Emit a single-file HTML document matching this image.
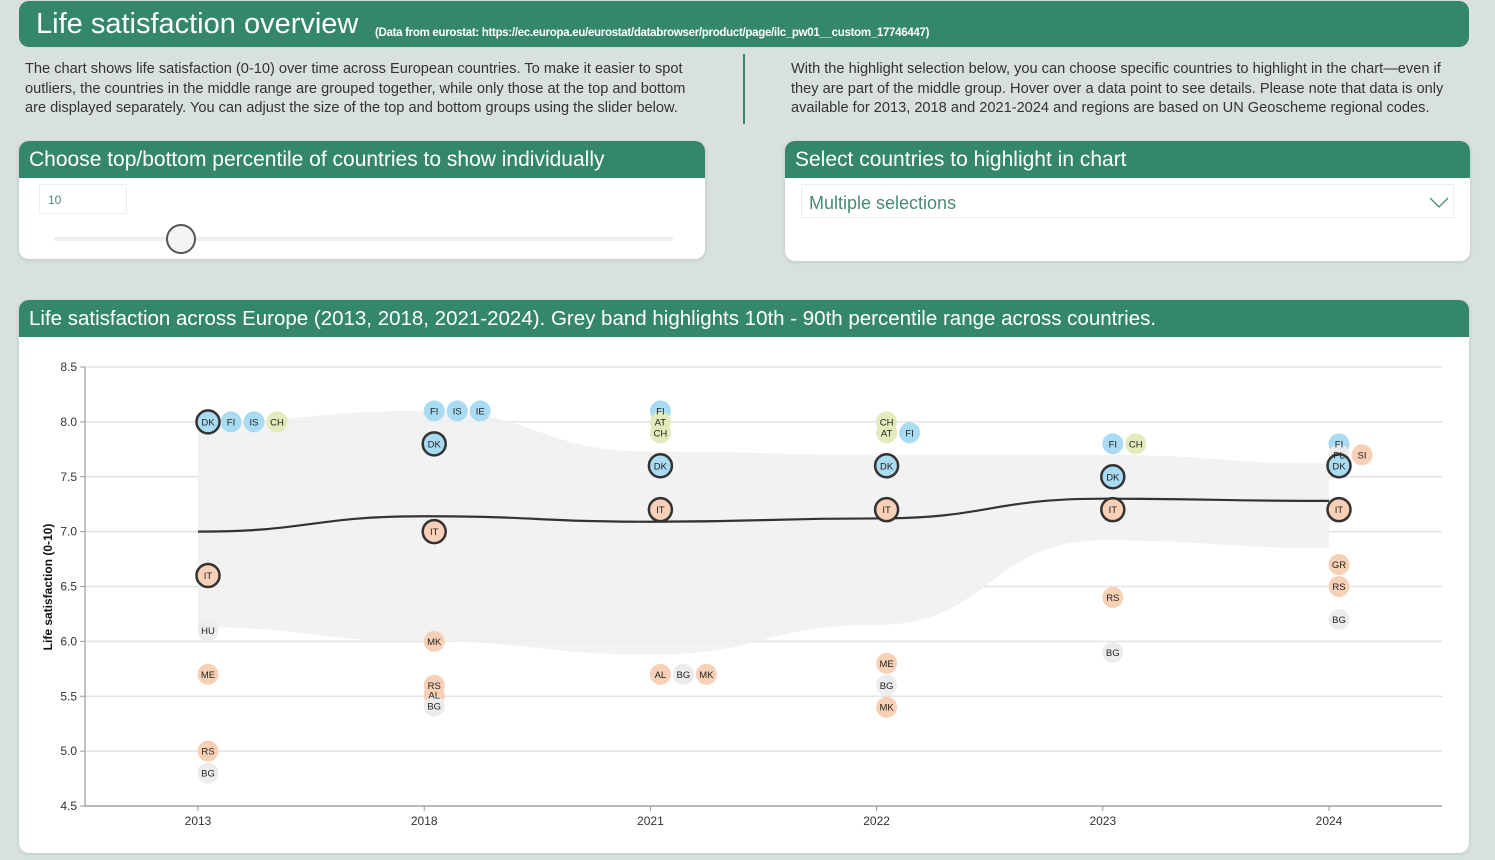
<!DOCTYPE html>
<html><head><meta charset="utf-8"><style>
body{margin:0;width:1495px;height:860px;background:#d8e1de;font-family:"Liberation Sans",sans-serif;position:relative;overflow:hidden}
.abs{position:absolute}
.hdr{background:#35876a;color:#fff}
.card{background:#fff;border-radius:10px;box-shadow:0 1px 4px rgba(0,0,0,.12);overflow:hidden}
.para{font-size:14.6px;line-height:19.5px;color:#333;white-space:nowrap}
.ph{height:37px;line-height:37px;padding-left:10px;font-size:20.5px;white-space:nowrap}
</style></head><body>
<div class="abs hdr" style="left:19px;top:1px;width:1450px;height:46px;border-radius:10px">
 <span class="abs" style="left:17px;top:7px;font-size:29px">Life satisfaction overview</span>
 <span class="abs" style="left:356px;top:26px;font-size:11.5px;font-weight:bold;letter-spacing:-0.3px">(Data from eurostat: https://ec.europa.eu/eurostat/databrowser/product/page/ilc_pw01__custom_17746447)</span>
</div>
<div class="abs para" style="left:25px;top:60px">The chart shows life satisfaction (0-10) over time across European countries. To make it easier to spot<br>outliers, the countries in the middle range are grouped together, while only those at the top and bottom<br>are displayed separately. You can adjust the size of the top and bottom groups using the slider below.</div>
<div class="abs" style="left:743px;top:54px;width:2px;height:70px;background:#35876a"></div>
<div class="abs para" style="left:791px;top:60px">With the highlight selection below, you can choose specific countries to highlight in the chart—even if<br>they are part of the middle group. Hover over a data point to see details. Please note that data is only<br>available for 2013, 2018 and 2021-2024 and regions are based on UN Geoscheme regional codes.</div>

<div class="abs card" style="left:19px;top:141px;width:686px;height:118px">
 <div class="hdr ph" style="font-size:21px">Choose top/bottom percentile of countries to show individually</div>
 <div class="abs" style="left:20px;top:43px;width:88px;height:30px;border:1px solid #eee;font-size:12px;color:#4a8b70;line-height:30px;padding-left:8px;box-sizing:border-box">10</div>
 <div class="abs" style="left:35px;top:96px;width:619px;height:4px;background:#eee;border-radius:2px"></div>
 <div class="abs" style="left:147px;top:83px;width:26px;height:26px;border:2px solid #555;border-radius:50%;background:#f3f3f3"></div>
</div>

<div class="abs card" style="left:785px;top:141px;width:685px;height:120px">
 <div class="hdr ph" style="font-size:21px">Select countries to highlight in chart</div>
 <div class="abs" style="left:16px;top:43px;width:653px;height:34px;border:1px solid #eee;box-sizing:border-box">
  <span class="abs" style="left:7px;top:8px;font-size:18px;color:#4a8b70">Multiple selections</span>
  <svg class="abs" style="left:626px;top:10px" width="22" height="14"><polyline points="2,3 11,12 20,3" fill="none" stroke="#4a8b70" stroke-width="1.3"/></svg>
 </div>
</div>

<div class="abs card" style="left:19px;top:300px;width:1450px;height:553px">
 <div class="hdr ph">Life satisfaction across Europe (2013, 2018, 2021-2024). Grey band highlights 10th - 90th percentile range across countries.</div>
</div>
<svg id="chart" class="abs" style="left:0;top:0" width="1495" height="860"></svg>

<script>
const years=["2013","2018","2021","2022","2023","2024"];
const median=[7.0,7.14,7.09,7.12,7.3,7.28];
const bandTop=[8.0,8.1,7.73,7.7,7.7,7.62];
const bandBottom=[6.13,6.0,5.88,6.15,6.92,6.85];
const yTicks=[4.5,5.0,5.5,6.0,6.5,7.0,7.5,8.0,8.5];
const ptYear=["2013","2013","2013","2013","2013","2013","2013","2013","2013",
"2018","2018","2018","2018","2018","2018","2018","2018","2018",
"2021","2021","2021","2021","2021","2021","2021","2021",
"2022","2022","2022","2022","2022","2022","2022","2022",
"2023","2023","2023","2023","2023","2023",
"2024","2024","2024","2024","2024","2024","2024","2024"];
const ptCode=["DK","FI","IS","CH","IT","HU","ME","RS","BG",
"FI","IS","IE","DK","IT","MK","RS","AL","BG",
"FI","AT","CH","DK","IT","AL","BG","MK",
"CH","AT","FI","DK","IT","ME","BG","MK",
"FI","CH","DK","IT","RS","BG",
"FI","PL","SI","DK","IT","GR","RS","BG"];
const ptValue=[8.0,8.0,8.0,8.0,6.6,6.1,5.7,5.0,4.8,
8.1,8.1,8.1,7.8,7.0,6.0,5.6,5.51,5.41,
8.1,8.0,7.9,7.6,7.2,5.7,5.7,5.7,
8.0,7.9,7.9,7.6,7.2,5.8,5.6,5.4,
7.8,7.8,7.5,7.2,6.4,5.9,
7.8,7.7,7.7,7.6,7.2,6.7,6.5,6.2];
const ptGroup=["n","n","n","w","s","e","s","s","e",
"n","n","n","n","s","s","s","s","e",
"n","w","w","n","s","s","e","s",
"w","w","n","n","s","s","e","s",
"n","w","n","s","s","e",
"n","e","s","n","s","s","s","e"];
const highlighted=["DK","IT"];

const NS="http://www.w3.org/2000/svg";
const svg=document.getElementById('chart');
const X0=85,X1=1442,Y0=806,Y1=367;
const xPos=i=>198+i*((1329-198)/5);
const yPos=v=>Y0-(v-4.5)/(8.5-4.5)*(Y0-Y1);
function mk(t,a){const e=document.createElementNS(NS,t);for(const k in a)e.setAttribute(k,a[k]);svg.appendChild(e);return e;}
const fills={n:"#a9dbf3",w:"#e2ebbb",s:"#f8d0b6",e:"#ececec"};

yTicks.forEach(t=>{
 const y=yPos(t);
 const g=mk('line',{x1:X0,x2:X1,y1:y,y2:y,stroke:"#e3e3e3","stroke-width":1.5});
 
 
 const tk=mk('line',{x1:X0-5,x2:X0,y1:y,y2:y,stroke:"#999"});
 
 
 const l=mk('text',{x:X0-8,y:y+4,"text-anchor":"end","font-size":12,fill:"#333","font-family":"Liberation Sans, sans-serif"});
 l.textContent=t.toFixed(1);
 
 
});
const ax=mk('path',{d:`M${X0},${Y1} V${Y0} H${X1}`,fill:"none",stroke:"#999","stroke-width":1.2});


years.forEach((yr,i)=>{
 const x=xPos(i);
 const tk=mk('line',{x1:x,x2:x,y1:Y0,y2:Y0+5,stroke:"#999"});
 
 
 const l=mk('text',{x:x,y:Y0+19,"text-anchor":"middle","font-size":12,fill:"#333","font-family":"Liberation Sans, sans-serif"});
 l.textContent=yr;
 
 
});
const yt=mk('text',{transform:`translate(52,587) rotate(-90)`,"text-anchor":"middle","font-size":12,"font-weight":"bold",fill:"#111","font-family":"Liberation Sans, sans-serif"});
yt.textContent="Life satisfaction (0-10)";



function curve(pts){let d=`M${pts[0][0]},${pts[0][1]}`;for(let i=1;i<pts.length;i++){const [x0,y0]=pts[i-1],[x1,y1]=pts[i];const m=(x0+x1)/2;d+=` C${m},${y0} ${m},${y1} ${x1},${y1}`;}return d;}
const topPts=bandTop.map((v,i)=>[xPos(i),yPos(v)]);
const botPts=bandBottom.map((v,i)=>[xPos(i),yPos(v)]).reverse();
let bd=curve(topPts)+" L"+botPts[0][0]+","+botPts[0][1]+curve(botPts).replace(/^M[^C]*/,'')+" Z";
const band=mk('path',{d:bd,fill:"#f0f0f0","fill-opacity":0.85});


const ml=mk('path',{d:curve(median.map((v,i)=>[xPos(i),yPos(v)])),fill:"none",stroke:"#333","stroke-width":2.2});



const seen={};
const order=ptCode.map((c,i)=>i).sort((a,b)=>(highlighted.includes(ptCode[a])?1:0)-(highlighted.includes(ptCode[b])?1:0));
const offs=ptCode.map((c,i)=>{const k=ptYear[i]+"_"+ptValue[i];seen[k]=(seen[k]||0);return seen[k]++;});
const px=i=>xPos(years.indexOf(ptYear[i]))+10+offs[i]*23;
order.forEach(i=>{
 const hl=highlighted.includes(ptCode[i]);
 const c=mk('circle',{cx:px(i),cy:yPos(ptValue[i]),r:hl?11.5:10.5,fill:fills[ptGroup[i]],stroke:hl?"#333":"none","stroke-width":2.5});
 
 
});
order.forEach(i=>{
 const t=mk('text',{x:px(i),y:yPos(ptValue[i])+3.5,"text-anchor":"middle","font-size":9.5,fill:"#222","font-family":"Liberation Sans, sans-serif"});
 t.textContent=ptCode[i];
 
 
});
</script>
</body></html>
